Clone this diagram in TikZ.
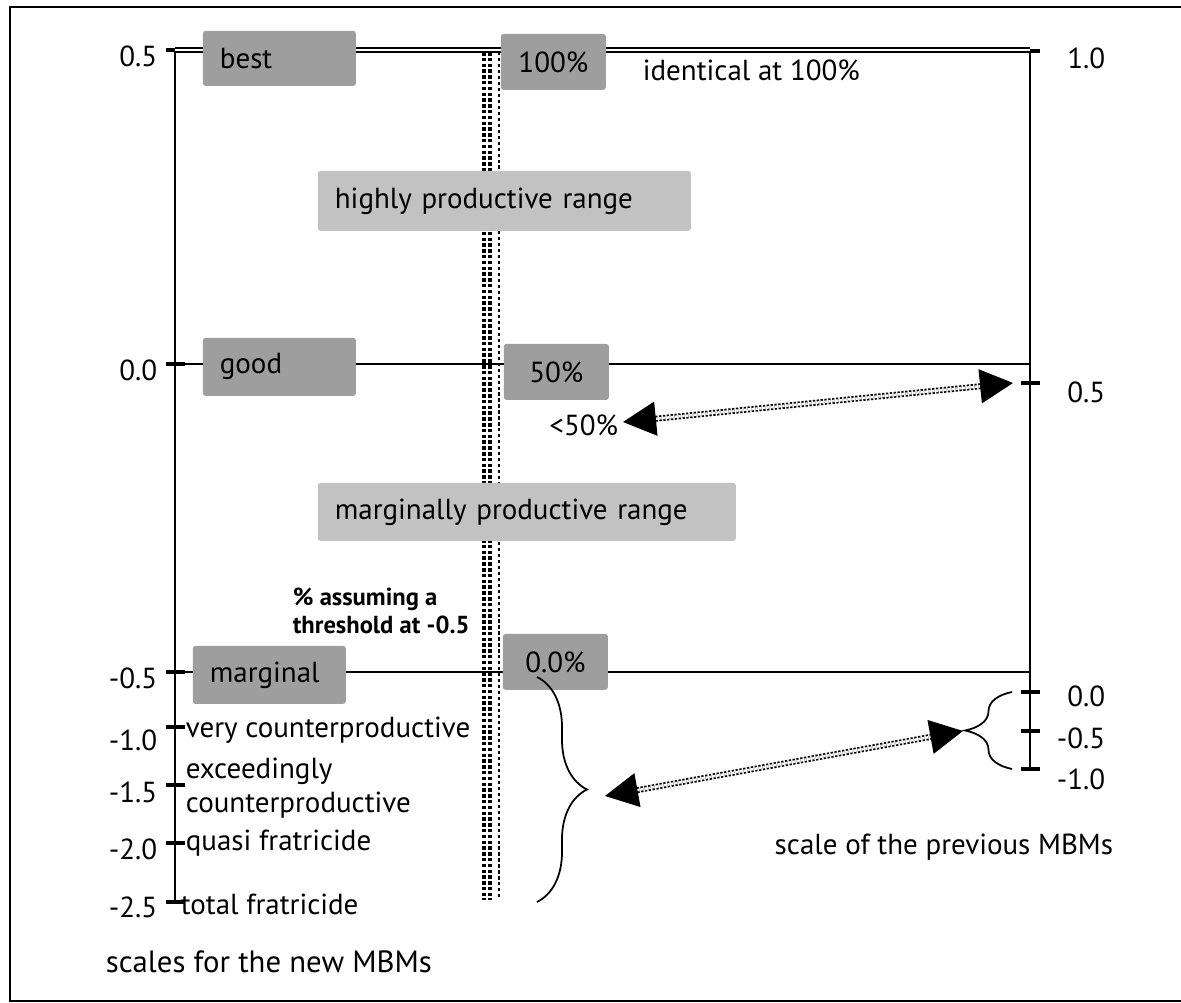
\documentclass[tikz,border=0pt]{standalone}
\usepackage{fontspec}
\setmainfont{PT Sans}
\usetikzlibrary{positioning,calc,arrows.meta,decorations.pathreplacing}

\begin{document}
\begin{tikzpicture}[x=0.02cm, y=-0.02cm, line width=1pt, inner sep=0pt,
    font=\fontsize{16.5}{19}\selectfont,
    shadebox/.style={fill=black!38, rounded corners=1.5pt, inner xsep=0.34cm, inner ysep=0pt, align=left, anchor=north west},
    rangebox/.style={shadebox, fill=black!24},
    pctbox/.style={fill=black!38, rounded corners=1.5pt, align=center, anchor=north west, minimum width=2.1cm, minimum height=1.12cm},
    tickmark/.style={line width=2.6pt},
    bandA/.style={line width=2pt, dash pattern=on 2pt off 1.3pt},
    bandB/.style={line width=1.1pt, dash pattern=on 1.8pt off 1.6pt},
    dotarrow/.style={double, double distance=1.4pt, line width=1pt, dash pattern=on 1.3pt off 0.9pt,
        {Triangle[length=0.66cm,width=0.68cm]}-{Triangle[length=0.66cm,width=0.68cm]}},
    bigbrace/.style={decorate, decoration={brace, amplitude=1cm}},
    smallbrace/.style={decorate, decoration={brace, amplitude=0.94cm}}]

    \useasboundingbox (0,0) rectangle (1181,1003);

    % frame
    \draw[line width=1.2pt] (1181,7) -- (10,7) -- (10,1001) -- (1181,1001);

    % left scale
    \coordinate (ltop) at (175,50);
    \coordinate (lbot) at (175,902);
    \coordinate (lzero) at (175,364);
    \coordinate (lhalf) at (175,672);
    \draw (ltop) -- (lbot);
    \foreach \yy in {50, 364, 672, 727, 785, 843, 902}
        \draw[tickmark] (166,\yy) -- (185,\yy);
    \foreach \val/\yy [count=\i] in {0.5/56, 0.0/370, -0.5/678, -1.0/740, -1.5/792, -2.0/849, -2.5/907}
        \node [anchor=east] (lv\i) at (158,\yy) {\val};

    % right scale
    \coordinate (rtop) at (1030,51);
    \coordinate (rbot) at (1030,769);
    \draw (rtop) -- (rbot);
    \foreach \yy in {51, 383, 692, 731, 769}
        \draw[tickmark] (1021,\yy) -- (1040,\yy);
    \foreach \val/\yy [count=\i] in {1.0/58, 0.5/392, 0.0/696, -0.5/738, -1.0/779}
        \node [anchor=east] (rv\i) at (1106,\yy) {\val};

    % levels
    \draw[double, double distance=1.5pt, line width=0.8pt] (ltop) -- (ltop -| rtop);
    \draw[line width=0.8pt] (lzero) -- (lzero -| rtop);
    \draw[line width=0.8pt] (lhalf) -- (lhalf -| rtop);

    % dotted band
    \draw[bandA] (484,52) -- (484,900);
    \draw[bandA] (490,52) -- (490,900);
    \draw[bandB] (499,52) -- (499,900);

    % boxes
    \node [shadebox, text width=2.38cm, minimum height=1.1cm] (best) at (202,30) {best};
    \node [shadebox, text width=2.38cm, minimum height=1.16cm] (good) at (202,337) {good};
    \node [shadebox, text width=2.38cm, minimum height=1.16cm] (marg) at (192,645) {marginal};
    \node [pctbox] (p100) at (500,33) {100\%};
    \node [pctbox] (p50) at (503,343) {50\%};
    \node [pctbox] (p0) at (502,633) {0.0\%};
    \node [rangebox, text width=6.78cm, minimum height=1.2cm] (high) at (317,170) {highly productive range};
    \node [rangebox, text width=7.68cm, minimum height=1.16cm] (margrange) at (317,482) {marginally productive range};

    % texts
    \node [anchor=west] (ident) at (642,70) {identical at 100\%};
    \node [anchor=east] (lt50) at (619,425) {<50\%};
    \node [anchor=west, align=left, font=\bfseries\fontsize{14}{15.5}\selectfont] (thresh) at (292,611) {\% assuming a\\threshold at -0.5};
    \node [anchor=west] (vc) at (185,730) {very counterproductive};
    \node [anchor=west, align=left] (ec) at (185,788) {exceedingly\\counterproductive};
    \node [anchor=west] (qf) at (185,843) {quasi fratricide};
    \node [anchor=west] (tf) at (180,904) {total fratricide};
    \node [anchor=west, font=\fontsize{17.5}{20}\selectfont] (newmbm) at (105,962) {scales for the new MBMs};
    \node [anchor=east] (oldmbm) at (1114,847) {scale of the previous MBMs};

    % braces and arrows
    \coordinate (bb1) at (537,677);
    \coordinate (bb2) at (537,902);
    \coordinate (sb1) at (1012,769);
    \coordinate (sb2) at (1012,692);
    \draw[bigbrace] (bb1) -- (bb2);
    \draw[smallbrace] (sb1) -- (sb2);

    \coordinate (a1l) at (623,422);
    \coordinate (a1r) at (1013,383);
    \coordinate (a2l) at (605,796);
    \coordinate (a2r) at (963,731);
    \draw[dotarrow] (a1l) -- (a1r);
    \draw[dotarrow] (a2l) -- (a2r);

\end{tikzpicture}
\end{document}
